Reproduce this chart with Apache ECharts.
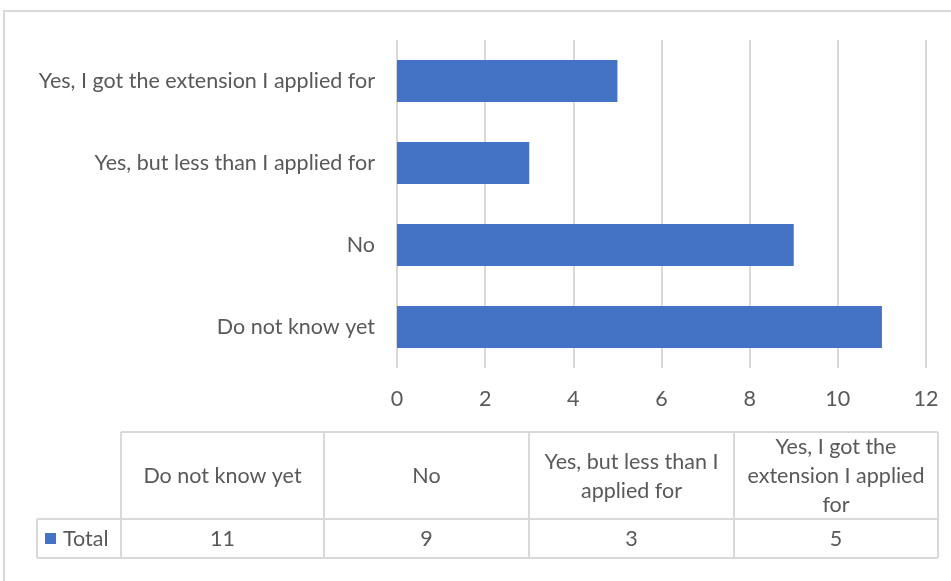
<!DOCTYPE html>
<html>
<head>
<meta charset="utf-8">
<script src="https://cdn.jsdelivr.net/npm/echarts@6/dist/echarts.min.js"></script>
<style>html,body{margin:0;padding:0;background:#fff;}#c{width:951px;height:581px;}</style>
</head>
<body>
<div id="c"></div>
<script>
var categories = ['Do not know yet', 'No', 'Yes, but less than I applied for', 'Yes, I got the extension I applied for'];
var totals = [11, 9, 3, 5];
var tableHeaders = ['Do not know yet', 'No', 'Yes, but less than I\napplied for', 'Yes, I got the\nextension I applied\nfor'];
var seriesName = 'Total';
var xTicks = [0, 2, 4, 6, 8, 10, 12];

var FONT = 'Lato';
var FS = 21.5;
var TXT = '#595959';
var BLUE = '#4472C4';
var LINE = '#d9d9d9';

var chart = echarts.init(document.getElementById('c'), null, {renderer: 'canvas'});

// table geometry
var colX = [121, 324, 529, 734, 938];
var legX0 = 37;
var rowY = [432, 519, 558];

var graphics = [];
// outer frame
graphics.push({type: 'rect', shape: {x: 4, y: 11, width: 1000, height: 700}, style: {fill: 'none', stroke: LINE, lineWidth: 2}, silent: true});
// table lines
var ls = {stroke: LINE, lineWidth: 2};
graphics.push({type: 'line', shape: {x1: colX[0], y1: rowY[0], x2: colX[4], y2: rowY[0]}, style: ls});
graphics.push({type: 'line', shape: {x1: legX0, y1: rowY[1], x2: colX[4], y2: rowY[1]}, style: ls});
graphics.push({type: 'line', shape: {x1: legX0, y1: rowY[2], x2: colX[4], y2: rowY[2]}, style: ls});
graphics.push({type: 'line', shape: {x1: legX0, y1: rowY[1], x2: legX0, y2: rowY[2]}, style: ls});
for (var i = 0; i < colX.length; i++) {
  graphics.push({type: 'line', shape: {x1: colX[i], y1: rowY[0], x2: colX[i], y2: rowY[2]}, style: ls});
}
for (var j = 0; j < categories.length; j++) {
  var cx = (colX[j] + colX[j + 1]) / 2;
  graphics.push({type: 'text', x: cx, y: (rowY[0] + rowY[1]) / 2 + 1, style: {text: tableHeaders[j], fill: TXT, font: FS + 'px ' + FONT, align: 'center', verticalAlign: 'middle', lineHeight: 29}});
  graphics.push({type: 'text', x: cx, y: (rowY[1] + rowY[2]) / 2 + 1, style: {text: String(totals[j]), fill: TXT, font: FS + 'px ' + FONT, align: 'center', verticalAlign: 'middle'}});
}
graphics.push({type: 'rect', shape: {x: 45, y: 533, width: 11, height: 11}, style: {fill: BLUE}});
graphics.push({type: 'text', x: 63, y: (rowY[1] + rowY[2]) / 2 + 1, style: {text: seriesName, fill: TXT, font: FS + 'px ' + FONT, align: 'left', verticalAlign: 'middle'}});

chart.setOption({
  animation: false,
  backgroundColor: '#fff',
  grid: {left: 397, right: 25, top: 40, bottom: 213, containLabel: false},
  xAxis: {
    type: 'value', min: xTicks[0], max: xTicks[xTicks.length - 1], interval: 2,
    axisLine: {show: false}, axisTick: {show: false},
    splitLine: {show: true, lineStyle: {color: LINE, width: 2}},
    axisLabel: {color: TXT, fontSize: FS, fontFamily: FONT, margin: 20}
  },
  yAxis: {
    type: 'category', data: categories,
    axisLine: {show: false}, axisTick: {show: false},
    axisLabel: {color: TXT, fontSize: FS, fontFamily: FONT, margin: 22}
  },
  series: [{
    name: seriesName, type: 'bar', data: totals, barCategoryGap: '49%',
    itemStyle: {color: BLUE}
  }],
  graphic: graphics
});
</script>
</body>
</html>
